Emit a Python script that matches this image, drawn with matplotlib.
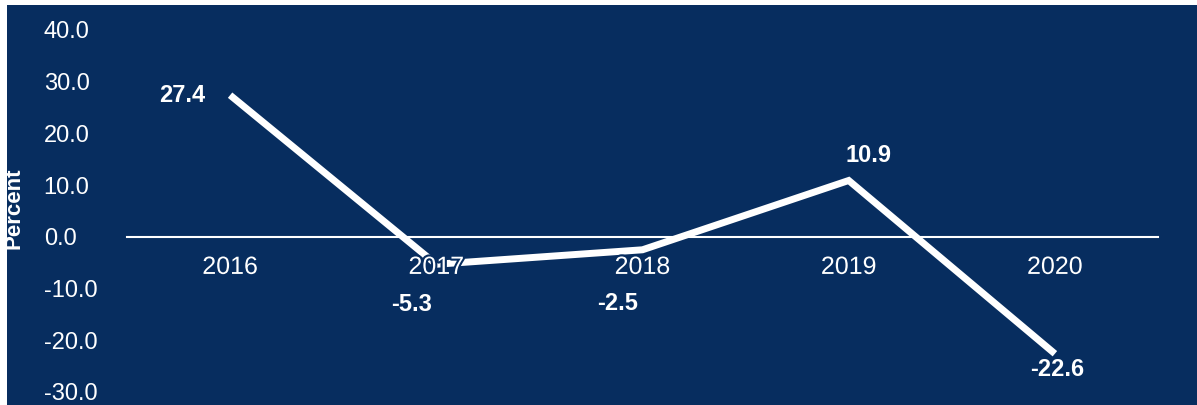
import matplotlib.pyplot as plt
import matplotlib.patheffects as pe
from matplotlib.patches import Rectangle

anni = ["2016", "2017", "2018", "2019", "2020"]
variazione = [27.4, -5.3, -2.5, 10.9, -22.6]
tick_y = [40, 30, 20, 10, 0, -10, -20, -30]

navy = "#072d5f"
plt.rcParams['font.family'] = ['Liberation Sans', 'DejaVu Sans']

fig = plt.figure(figsize=(11.97, 4.05), dpi=100, facecolor=navy)
ax = fig.add_axes([127 / 1197, 1 - 392 / 405, 1031 / 1197, 362 / 405])
ax.set_facecolor(navy)

# asse x sullo zero (prima delle etichette, altrimenti vengono azzerate)
for s in ["top", "right", "left"]:
    ax.spines[s].set_visible(False)
ax.spines["bottom"].set_position(("data", 0))
ax.spines["bottom"].set_color("white")
ax.spines["bottom"].set_linewidth(1.5)

x = range(len(anni))
ax.plot(x, variazione, color="white", lw=5, solid_capstyle="butt",
        solid_joinstyle="miter", zorder=2, clip_on=False)

# etichette dei valori, spostate a mano rispetto al punto (pixel)
spost = [(-48, 0), (-25, 40), (-25, 54), (20, -25), (2, 16)]
for i, v in enumerate(variazione):
    dx, dy = spost[i]
    ax.annotate("{:.1f}".format(v), xy=(i, v), xytext=(dx * 0.72, -dy * 0.72),
                textcoords="offset points", ha="center", va="center",
                color="white", fontsize=17, fontweight="bold", zorder=4)

ax.set_xlim(-0.5, len(anni) - 0.5)
ax.set_ylim(-30, 40)
ax.set_xticks(list(x))
ax.set_xticklabels(anni, color="white", fontsize=18)
ax.set_yticks(tick_y)
ax.set_yticklabels(["{:.1f}".format(t) for t in tick_y], color="white",
                   fontsize=17, ha="left")
ax.tick_params(axis="y", length=0, pad=60)
ax.tick_params(axis="x", length=0, pad=13)
ax.xaxis.set_zorder(3)
for lab in ax.get_xticklabels():
    lab.set_path_effects([pe.withStroke(linewidth=3, foreground=navy)])

fig.text(14 / 1197, 1 - 208 / 405, "Percent", rotation=90, color="white",
         fontsize=16, fontweight="bold", ha="center", va="center")

# bordo bianco sinistro e superiore
fig.patches.append(Rectangle((0, 0), 7 / 1197, 1, transform=fig.transFigure,
                             facecolor="white", edgecolor="none", zorder=10))
fig.patches.append(Rectangle((0, 1 - 5 / 405), 1, 5 / 405, transform=fig.transFigure,
                             facecolor="white", edgecolor="none", zorder=10))

fig.savefig("out.png", dpi=100, facecolor=navy)
plt.close(fig)
